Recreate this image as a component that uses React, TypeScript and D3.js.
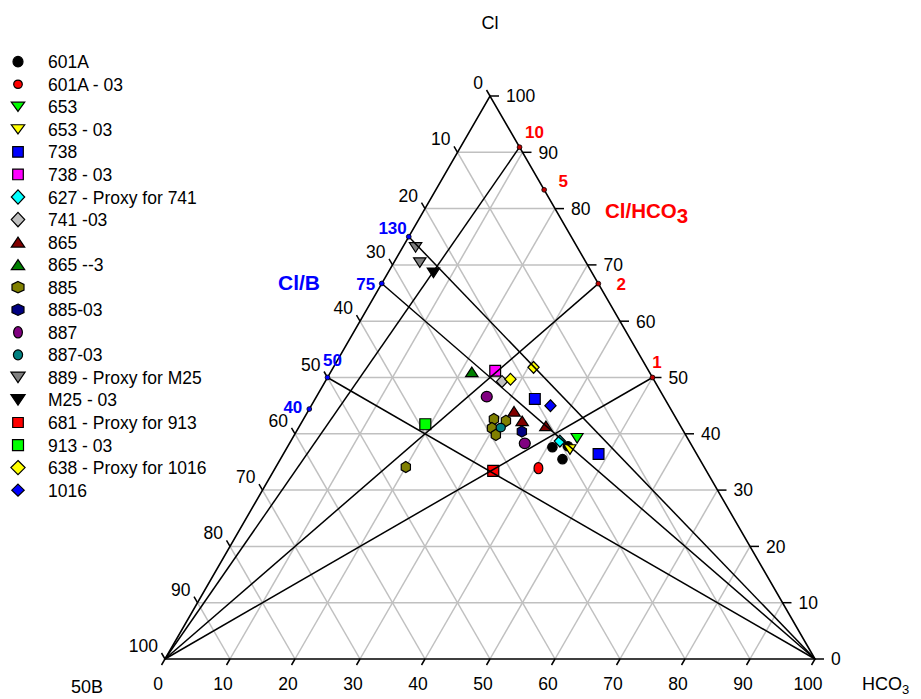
import * as d3 from "d3";
import React from "react";

const width = 921;
const height = 699;

// ternary frame: bottom-left = 50B, bottom-right = HCO3, top = Cl
const xScale = d3.scaleLinear().domain([0, 100]).range([165, 815]);
const yScale = d3.scaleLinear().domain([0, 100]).range([659, 96]);

// [Cl %, HCO3 %] per sample (50B is the rest)
const s601A = [[37.6, 40.8], [37.8, 43.1], [35.5, 43.4]];
const s601A03 = [[33.9, 40.5]];
const s653 = [[39.2, 43.8]];
const s65303 = [[37.2, 43.7]];
const s738 = [[46.2, 33.8], [36.4, 48.5]];
const s73803 = [[51.2, 25.2]];
const s627 = [[38.7, 41.4]];
const s74103 = [[49.3, 27.2]];
const s865 = [[44.0, 31.7], [42.3, 33.8], [41.4, 37.9]];
const s86503 = [[51.0, 21.7]];
const s885 = [[42.6, 29.3], [42.3, 31.3], [41.0, 29.8], [39.8, 31.0], [34.1, 20.0]];
const s88503 = [[40.4, 34.7]];
const s887 = [[46.6, 26.2], [38.3, 36.2]];
const s88703 = [[41.1, 31.1]];
const s889 = [[73.1, 2.0], [70.4, 4.0]];
const sM2503 = [[68.6, 7.0]];
const s681 = [[33.4, 33.8]];
const s91303 = [[41.7, 19.2]];
const s638 = [[49.7, 28.3], [51.8, 30.8]];
const s1016 = [[45.0, 36.8]];

const seriesNames = [
  "601A", "601A - 03", "653", "653 - 03", "738", "738 - 03",
  "627 - Proxy for 741", "741 -03", "865", "865 --3", "885", "885-03",
  "887", "887-03", "889 - Proxy for M25", "M25 - 03", "681 - Proxy for 913",
  "913 - 03", "638 - Proxy for 1016", "1016",
];
const seriesData = [
  s601A, s601A03, s653, s65303, s738, s73803, s627, s74103, s865, s86503,
  s885, s88503, s887, s88703, s889, sM2503, s681, s91303, s638, s1016,
];

// styling of each series: shape, fill, half sizes in plot and in legend
const seriesStyle = [
  { shape: "circle", fill: "#000000", plot: [4.7, 4.7], legend: [5, 5.3] },
  { shape: "circle", fill: "#ff0000", plot: [4.4, 5.6], legend: [4.3, 4.2] },
  { shape: "triDown", fill: "#00ff00", plot: [6, 4.8], legend: [6.7, 4.6] },
  { shape: "triDown", fill: "#ffff00", plot: [6, 4.8], legend: [6.7, 4.6] },
  { shape: "square", fill: "#0000ff", plot: [5.4, 5.4], legend: [5.3, 5.3] },
  { shape: "square", fill: "#ff00ff", plot: [5.4, 5.4], legend: [5.3, 5.3] },
  { shape: "diamond", fill: "#00ffff", plot: [5.6, 5.9], legend: [6.7, 7.2] },
  { shape: "diamond", fill: "#c0c0c0", plot: [5.6, 5.9], legend: [6.7, 7.2] },
  { shape: "triUp", fill: "#800000", plot: [6.2, 4.8], legend: [6.7, 5] },
  { shape: "triUp", fill: "#008000", plot: [6.2, 4.8], legend: [6.7, 5] },
  { shape: "hex", fill: "#808000", plot: [4.6, 5.6], legend: [6, 5.7] },
  { shape: "hex", fill: "#000080", plot: [4.6, 5.6], legend: [6, 5.7] },
  { shape: "circle", fill: "#800080", plot: [5.5, 5.3], legend: [4.4, 5.6] },
  { shape: "circle", fill: "#008080", plot: [4.6, 4.3], legend: [4.6, 5] },
  { shape: "triDown", fill: "#808080", plot: [6.2, 4.8], legend: [7.1, 5.3] },
  { shape: "triDown", fill: "#000000", plot: [6.2, 4.8], legend: [7.1, 5.3] },
  { shape: "square", fill: "#ff0000", plot: [5.5, 5.5], legend: [5.3, 5] },
  { shape: "square", fill: "#00ff00", plot: [5.5, 5.5], legend: [5.5, 5.5] },
  { shape: "diamond", fill: "#ffff00", plot: [5.6, 5.9], legend: [7.1, 7.1] },
  { shape: "diamond", fill: "#0000ff", plot: [5.6, 5.9], legend: [6.2, 6] },
];

const ticks = [0, 10, 20, 30, 40, 50, 60, 70, 80, 90, 100];
const gridValues = [10, 20, 30, 40, 50, 60, 70, 80, 90];

// Cl/HCO3 ratio marks on the right edge
const clHco3Labels = ["10", "5", "2", "1"];
const clHco3Ratios = [10, 5, 2, 1];
const clHco3Lines = [true, false, true, true];
const clHco3LabelPos = [[15, -9, "middle"], [19, -2.5, "middle"], [23, 6, "middle"], [4.5, -10, "middle"]];

// Cl/B ratio marks on the left edge (Cl % where the mark sits)
const clBLabels = ["130", "75", "50", "40"];
const clBCl = [75, 66.7, 50, 44.4];
const clBLines = [true, true, true, false];
const clBLabelPos = [[-2, -2.5, "end"], [-6.5, 6.5, "end"], [5, -12, "middle"], [-7, 4, "end"]];

const pt = (cl: number, hco3: number): [number, number] => [
  xScale(hco3) + (xScale(cl) - xScale(0)) / 2,
  yScale(cl),
];

const markerPath = (shape: string, sx: number, sy: number) => {
  if (shape === "circle") {
    return `M${-sx},0A${sx},${sy} 0 1,0 ${sx},0A${sx},${sy} 0 1,0 ${-sx},0Z`;
  }
  let pts: [number, number][] = [];
  if (shape === "square") pts = [[-sx, -sy], [sx, -sy], [sx, sy], [-sx, sy]];
  if (shape === "diamond") pts = [[0, -sy], [sx, 0], [0, sy], [-sx, 0]];
  if (shape === "triUp") pts = [[0, -sy], [sx, sy], [-sx, sy]];
  if (shape === "triDown") pts = [[0, sy], [sx, -sy], [-sx, -sy]];
  if (shape === "hex")
    pts = [[0, -sy], [sx, -sy / 2], [sx, sy / 2], [0, sy], [-sx, sy / 2], [-sx, -sy / 2]];
  const p = d3.path();
  pts.forEach((q, i) => (i ? p.lineTo(q[0], q[1]) : p.moveTo(q[0], q[1])));
  p.closePath();
  return p.toString();
};

const font = "Arial, 'Liberation Sans', Helvetica, sans-serif";

const App = () => {
  const line = d3.line();
  const apex = pt(100, 0);
  const bl = pt(0, 0);
  const br = pt(0, 100);

  const grid: [number, number][][] = [];
  gridValues.forEach((v) => {
    grid.push([pt(v, 0), pt(v, 100 - v)]);
    grid.push([pt(0, v), pt(100 - v, v)]);
    grid.push([pt(100 - v, 0), pt(0, 100 - v)]);
  });

  return (
    <svg width={width} height={height} style={{ display: "block", position: "absolute", left: 0, top: 0 }} fontFamily={font}>
      <rect width={width} height={height} fill="#fff" />
      {/* grid */}
      <g stroke="#c0c0c0" strokeWidth={1.5} fill="none">
        {grid.map((g, i) => (
          <path key={i} d={line(g) || ""} />
        ))}
      </g>

      {/* samples */}
      <g stroke="#000" strokeWidth={1.2}>
        {seriesData.map((arr, si) =>
          arr.map((d, i) => {
            const [x, y] = pt(d[0], d[1]);
            const st = seriesStyle[si];
            return (
              <path
                key={`${si}-${i}`}
                d={markerPath(st.shape, st.plot[0], st.plot[1])}
                transform={`translate(${x},${y})`}
                fill={st.fill}
              />
            );
          })
        )}
      </g>

      {/* ratio lines */}
      <g stroke="#000" strokeWidth={1.5} fill="none">
        {clHco3Ratios.map((r, i) =>
          clHco3Lines[i] ? (
            <path key={`h${i}`} d={line([bl, pt((100 * r) / (1 + r), 100 - (100 * r) / (1 + r))]) || ""} />
          ) : null
        )}
        {clBCl.map((c, i) =>
          clBLines[i] ? <path key={`b${i}`} d={line([br, pt(c, 0)]) || ""} /> : null
        )}
      </g>

      {/* triangle frame */}
      <path d={line([bl, br, apex, bl]) + "Z"} stroke="#000" strokeWidth={1.6} fill="none" />

      {/* ticks and tick labels */}
      <g stroke="#000" strokeWidth={1.5}>
        {ticks.map((t) => {
          const [x, y] = pt(0, t);
          return <line key={`bt${t}`} x1={x} y1={y} x2={x - 3.5} y2={y + 6} />;
        })}
        {ticks.map((t) => {
          const [x, y] = pt(t, 100 - t);
          return <line key={`rt${t}`} x1={x} y1={y} x2={x + 9} y2={y} />;
        })}
        {ticks.map((t) => {
          const [x, y] = pt(100 - t, 0);
          return <line key={`lt${t}`} x1={x} y1={y} x2={x - 3.5} y2={y - 6} />;
        })}
      </g>
      <g fontSize={17.5} fill="#000">
        {ticks.map((t) => {
          const [x, y] = pt(0, t);
          return (
            <text key={`bl${t}`} x={x - 7} y={y + 31} textAnchor="middle">
              {t}
            </text>
          );
        })}
        {ticks.map((t) => {
          const [x, y] = pt(t, 100 - t);
          return (
            <text key={`rl${t}`} x={x + 16} y={y + 6.3} textAnchor="start">
              {t}
            </text>
          );
        })}
        {ticks.map((t) => {
          const [x, y] = pt(100 - t, 0);
          return (
            <text key={`ll${t}`} x={x - 7} y={y - 7} textAnchor="end">
              {t}
            </text>
          );
        })}
      </g>

      {/* ratio points and labels */}
      {clHco3Ratios.map((r, i) => {
        const c = (100 * r) / (1 + r);
        const [x, y] = pt(c, 100 - c);
        const lp = clHco3LabelPos[i];
        return (
          <g key={`hp${i}`}>
            <circle cx={x} cy={y} r={2.4} fill="#c00000" stroke="#000" strokeWidth={0.8} />
            <text x={x + (lp[0] as number)} y={y + (lp[1] as number)} textAnchor={lp[2] as string} fill="#ff0000" fontWeight="bold" fontSize={17}>
              {clHco3Labels[i]}
            </text>
          </g>
        );
      })}
      {clBCl.map((c, i) => {
        const [x, y] = pt(c, 0);
        const lp = clBLabelPos[i];
        return (
          <g key={`bp${i}`}>
            <circle cx={x} cy={y} r={2.4} fill="#0000ff" stroke="#000" strokeWidth={0.8} />
            <text x={x + (lp[0] as number)} y={y + (lp[1] as number)} textAnchor={lp[2] as string} fill="#0000ff" fontWeight="bold" fontSize={17}>
              {clBLabels[i]}
            </text>
          </g>
        );
      })}
      <text x={605} y={218} fill="#ff0000" fontWeight="bold" fontSize={20.5}>
        Cl/HCO<tspan dy={4.5}>3</tspan>
      </text>
      <text x={278} y={290} fill="#0000ff" fontWeight="bold" fontSize={21}>
        Cl/B
      </text>

      {/* corner titles */}
      <text x={490} y={29} fontSize={18} textAnchor="middle">Cl</text>
      <text x={87} y={693} fontSize={18} textAnchor="middle">50B</text>
      <text x={862} y={690} fontSize={18}>
        HCO<tspan fontSize={13} dy={4}>3</tspan>
      </text>

      {/* legend */}
      <g>
        {seriesNames.map((name, i) => {
          const y = 61.7 + i * 22.55;
          const st = seriesStyle[i];
          return (
            <g key={name} transform={`translate(0,${y})`}>
              <path
                d={markerPath(st.shape, st.legend[0], st.legend[1])}
                transform="translate(18,0)"
                fill={st.fill}
                stroke="#000"
                strokeWidth={1.2}
              />
              <text x={48} y={6.5} fontSize={17.5}>
                {name}
              </text>
            </g>
          );
        })}
      </g>
    </svg>
  );
};

export default App;
